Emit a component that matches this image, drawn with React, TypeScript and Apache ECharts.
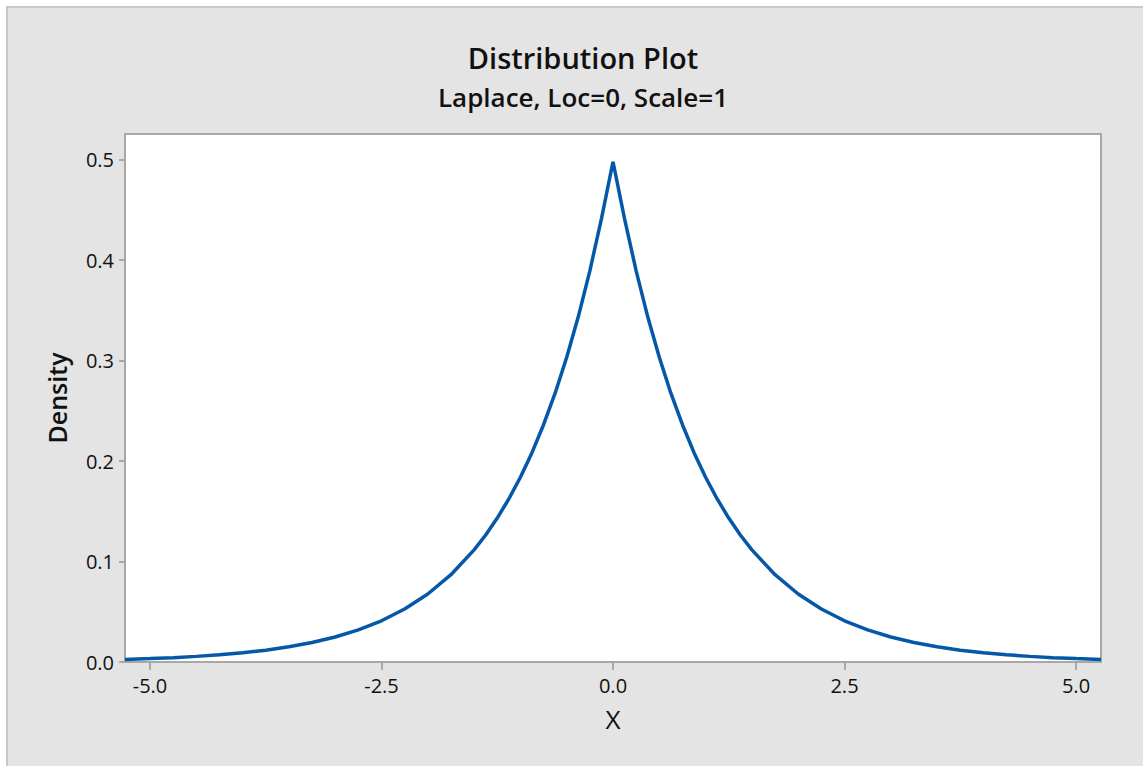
import React, { useEffect, useRef } from "react";
import * as echarts from "echarts";

const xValues = [
  -5.27, -5.0, -4.75, -4.5, -4.25, -4.0, -3.75, -3.5, -3.25, -3.0, -2.75, -2.5, -2.25, -2.0, -1.75, -1.5,
  -1.375, -1.25, -1.125, -1.0, -0.875, -0.75, -0.625, -0.5, -0.375, -0.25, -0.125, 0,
  0.125, 0.25, 0.375, 0.5, 0.625, 0.75, 0.875, 1.0, 1.125, 1.25, 1.375, 1.5,
  1.75, 2.0, 2.25, 2.5, 2.75, 3.0, 3.25, 3.5, 3.75, 4.0, 4.25, 4.5, 4.75, 5.0, 5.27,
];
const density = [
  0.0026, 0.0034, 0.0043, 0.0056, 0.0071, 0.0092, 0.0118, 0.0151, 0.0194, 0.0249, 0.032, 0.041, 0.0527, 0.0677, 0.0869, 0.1116,
  0.1264, 0.1433, 0.1623, 0.1839, 0.2084, 0.2362, 0.2676, 0.3033, 0.3436, 0.3894, 0.4412, 0.498,
  0.4412, 0.3894, 0.3436, 0.3033, 0.2676, 0.2362, 0.2084, 0.1839, 0.1623, 0.1433, 0.1264, 0.1116,
  0.0869, 0.0677, 0.0527, 0.041, 0.032, 0.0249, 0.0194, 0.0151, 0.0118, 0.0092, 0.0071, 0.0056, 0.0043, 0.0034, 0.0026,
];
const xTicks = [-5, -2.5, 0, 2.5, 5];
const yTicks = [0, 0.1, 0.2, 0.3, 0.4, 0.5];
const titleText = "Distribution Plot";
const subtitleText = "Laplace, Loc=0, Scale=1";

const FONT = "'Open Sans', 'Noto Sans', sans-serif";

export default function App() {
  const ref = useRef<HTMLDivElement>(null);
  useEffect(() => {
    if (!ref.current) return;
    const chart = echarts.init(ref.current, null, { renderer: "svg" });
    const data = xValues.map((x, i) => [x, density[i]]);
    chart.setOption({
      animation: false,
      backgroundColor: "#ffffff",
      graphic: [
        {
          type: "rect",
          z: -10,
          shape: { x: 7, y: 7, width: 1200, height: 800 },
          style: { fill: "#e4e4e4", stroke: "#c8c8c8", lineWidth: 2 },
        },
        {
          type: "text",
          x: 583,
          y: 57,
          style: {
            text: titleText,
            font: `600 29px ${FONT}`,
            fill: "#111111",
            textAlign: "center",
            textVerticalAlign: "middle",
          },
        },
        {
          type: "text",
          x: 583,
          y: 97,
          style: {
            text: subtitleText,
            font: `600 26px ${FONT}`,
            fill: "#111111",
            textAlign: "center",
            textVerticalAlign: "middle",
          },
        },
      ],
      grid: {
        left: 125,
        top: 134,
        right: 42,
        bottom: 104,
        show: true,
        backgroundColor: "#ffffff",
        borderColor: "#a8a8a8",
        borderWidth: 2,
      },
      xAxis: {
        type: "value",
        min: -5.27,
        max: 5.27,
        name: "X",
        nameLocation: "middle",
        nameGap: 44,
        nameTextStyle: { fontFamily: FONT, fontSize: 26, color: "#111111" },
        axisLine: { show: true, onZero: false, lineStyle: { color: "#a8a8a8", width: 2 } },
        axisTick: { show: true, length: 8, customValues: xTicks, lineStyle: { color: "#a8a8a8", width: 2 } },
        axisLabel: {
          customValues: xTicks,
          formatter: (v: number) => v.toFixed(1),
          fontFamily: FONT,
          fontSize: 20,
          color: "#111111",
          margin: 13,
        },
        splitLine: { show: false },
      },
      yAxis: {
        type: "value",
        min: 0,
        max: 0.5256,
        name: "Density",
        nameLocation: "middle",
        nameGap: 56,
        nameRotate: 90,
        nameTextStyle: { fontFamily: FONT, fontSize: 25, fontWeight: 600, color: "#111111" },
        axisLine: { show: true, onZero: false, lineStyle: { color: "#a8a8a8", width: 2 } },
        axisTick: { show: true, length: 6, customValues: yTicks, lineStyle: { color: "#a8a8a8", width: 2 } },
        axisLabel: {
          customValues: yTicks,
          formatter: (v: number) => v.toFixed(1),
          fontFamily: FONT,
          fontSize: 20,
          color: "#111111",
          margin: 11,
        },
        splitLine: { show: false },
      },
      series: [
        {
          type: "line",
          data,
          showSymbol: false,
          symbol: "none",
          lineStyle: { color: "#0557a8", width: 3.5 },
          clip: true,
        },
      ],
    });
    return () => chart.dispose();
  }, []);
  return (
    <div
      ref={ref}
      style={{ position: "fixed", left: 0, top: 0, width: 1143, height: 766 }}
    />
  );
}
